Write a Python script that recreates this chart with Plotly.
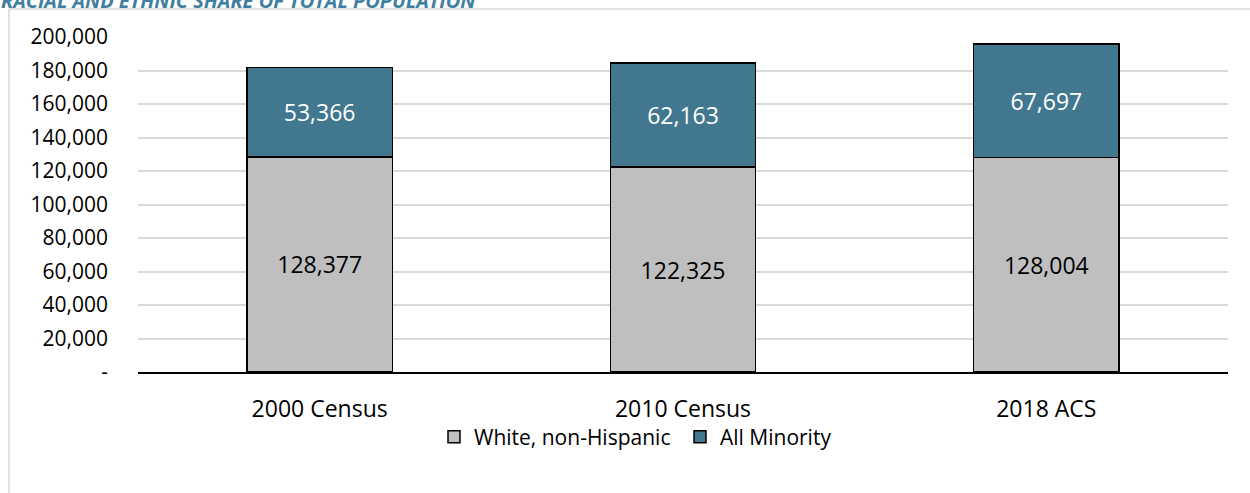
import plotly.graph_objects as go

categories = ["2000 Census", "2010 Census", "2018 ACS"]
white_non_hispanic = [128377, 122325, 128004]
all_minority = [53366, 62163, 67697]
tick_values = [0, 20000, 40000, 60000, 80000, 100000, 120000, 140000, 160000, 180000, 200000]
tick_labels = ["-", "20,000", "40,000", "60,000", "80,000", "100,000", "120,000",
               "140,000", "160,000", "180,000", "200,000"]
title_text = "RACIAL AND ETHNIC SHARE OF TOTAL POPULATION"

W, H = 1250, 493
ML, MR, MT, MB = 138, 22, 37, 121
font = "Open Sans"

fig = go.Figure()
fig.add_trace(go.Bar(
    x=categories, y=white_non_hispanic, name="White, non-Hispanic",
    marker=dict(color="#BFBFBF", line=dict(color="#000000", width=1.5)),
    texttemplate="%{y:,}", textposition="inside", insidetextanchor="middle",
    textfont=dict(color="#000000", size=23, family=font), width=0.4,
))
fig.add_trace(go.Bar(
    x=categories, y=all_minority, name="All Minority",
    marker=dict(color="#41778F", line=dict(color="#000000", width=1.5)),
    texttemplate="%{y:,}", textposition="inside", insidetextanchor="middle",
    textfont=dict(color="#FFFFFF", size=23, family=font), width=0.4,
))

def px_x(p):
    return (p - ML) / (W - ML - MR)

def px_y(p):
    return (H - MB - p) / (H - MT - MB)

fig.update_layout(
    width=W, height=H,
    margin=dict(l=ML, r=MR, t=MT, b=MB, pad=0),
    barmode="stack", bargap=0.6,
    paper_bgcolor="#FFFFFF", plot_bgcolor="#FFFFFF",
    font=dict(family=font, color="#000000", size=21),
    uniformtext=dict(mode=False),
    showlegend=True,
    legend=dict(orientation="h", x=px_x(434), xanchor="left", y=px_y(437), yanchor="middle",
                font=dict(size=21, family=font), traceorder="normal",
                itemwidth=30, entrywidth=201, entrywidthmode="pixels",
                tracegroupgap=0, bgcolor="rgba(0,0,0,0)"),
    xaxis=dict(showgrid=False, showline=True, linecolor="#000000", linewidth=2,
               tickfont=dict(size=23, family=font), ticks="", ticklabelstandoff=15),
    yaxis=dict(range=[0, 200000], tickvals=tick_values, ticktext=tick_labels,
               showgrid=True, gridcolor="#D9D9D9", gridwidth=1.5, zeroline=False,
               showline=False, ticks="", tickfont=dict(size=21, family=font),
               ticklabelstandoff=29),
    shapes=[
        dict(type="line", xref="paper", yref="paper", x0=px_x(9), x1=px_x(1252),
             y0=px_y(9), y1=px_y(9), line=dict(color="#D9D9D9", width=1.5)),
        dict(type="line", xref="paper", yref="paper", x0=px_x(9), x1=px_x(9),
             y0=px_y(9), y1=px_y(495), line=dict(color="#D9D9D9", width=1.5)),
    ],
    annotations=[
        dict(text="<b><i>" + title_text + "</i></b>", xref="paper", yref="paper",
             x=px_x(-1), y=px_y(16), xanchor="left", yanchor="bottom", showarrow=False,
             font=dict(size=20, color="#3F7FA0", family=font)),
    ],
)

fig.write_html("out.html", config={"displayModeBar": False},
               post_script="document.body.style.margin='0';document.body.style.overflow='hidden';")
